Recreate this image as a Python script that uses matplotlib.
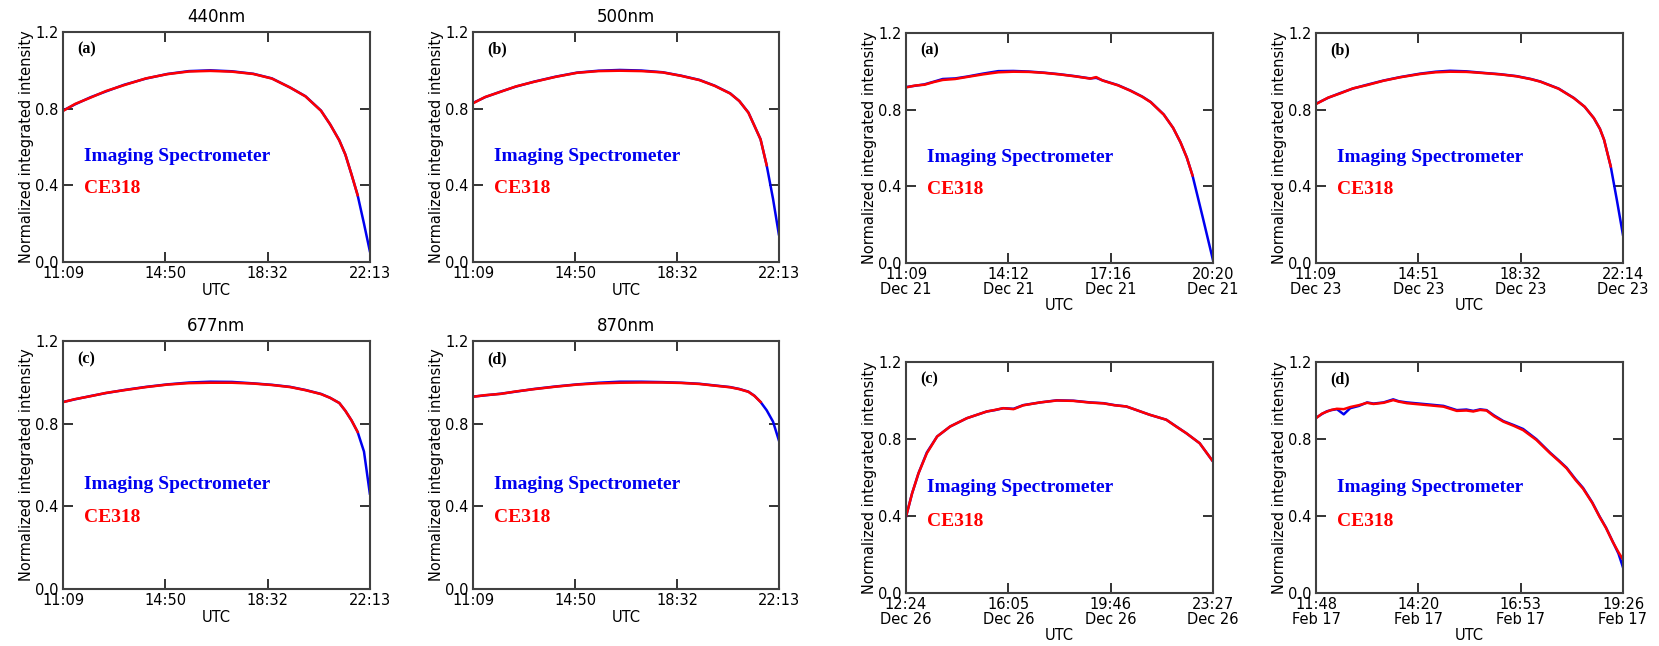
import matplotlib
matplotlib.use("Agg")
import matplotlib.pyplot as plt

# ---------------------------------------------------------------- data
# left block: one day, four wavelengths, same time window (decimal hours UTC)
t_left = [11.15, 11.59, 12.15, 12.70, 13.36, 14.14, 14.91, 15.69, 16.46, 17.24, 18.01,
          18.68, 19.34, 19.89, 20.45, 20.78, 21.11, 21.33, 21.55, 21.77, 22.00, 22.21]
left_window = ("11:09", "22:13")
left_ticks = ["11:09", "14:50", "18:32", "22:13"]

blue_440 = [0.790, 0.823, 0.860, 0.890, 0.925, 0.957, 0.981, 0.996, 1.000, 0.995, 0.982,
            0.958, 0.910, 0.865, 0.790, 0.718, 0.635, 0.560, 0.457, 0.349, 0.200, 0.057]
red_440 = [0.788, 0.825, 0.858, 0.892, 0.923, 0.958, 0.980, 0.994, 0.997, 0.993, 0.981,
           0.957, 0.910, 0.864, 0.789, 0.718, 0.634, 0.560, 0.457, 0.349]

blue_500 = [0.830, 0.860, 0.889, 0.915, 0.941, 0.967, 0.988, 0.998, 1.002, 0.999, 0.990,
            0.972, 0.950, 0.920, 0.880, 0.840, 0.780, 0.710, 0.640, 0.505, 0.330, 0.145]
red_500 = [0.828, 0.861, 0.888, 0.916, 0.940, 0.966, 0.987, 0.996, 0.998, 0.996, 0.989,
           0.971, 0.949, 0.919, 0.879, 0.840, 0.779, 0.710, 0.640, 0.505]

blue_677 = [0.905, 0.918, 0.934, 0.948, 0.963, 0.978, 0.990, 0.999, 1.003, 1.002, 0.995,
            0.988, 0.978, 0.963, 0.944, 0.925, 0.900, 0.862, 0.816, 0.760, 0.665, 0.462]
red_677 = [0.904, 0.919, 0.933, 0.949, 0.962, 0.977, 0.989, 0.996, 0.998, 0.998, 0.994,
           0.987, 0.977, 0.962, 0.943, 0.925, 0.900, 0.862, 0.816, 0.760]

blue_870 = [0.931, 0.937, 0.945, 0.955, 0.968, 0.980, 0.990, 0.998, 1.003, 1.003, 1.001,
            0.998, 0.993, 0.985, 0.977, 0.968, 0.955, 0.935, 0.905, 0.865, 0.810, 0.720]
red_870 = [0.930, 0.938, 0.944, 0.956, 0.967, 0.979, 0.989, 0.995, 0.998, 0.999, 0.999,
           0.997, 0.992, 0.984, 0.976, 0.967, 0.954, 0.934, 0.905]

# right block: four different days
t_dec21 = [11.15, 11.43, 11.70, 11.98, 12.25, 12.62, 12.99, 13.45, 13.91, 14.36, 14.82,
           15.28, 15.74, 16.20, 16.66, 16.84, 17.03, 17.49, 17.86, 18.22, 18.47, 18.86,
           19.14, 19.36, 19.55, 19.72, 20.02, 20.33]
blue_dec21 = [0.918, 0.925, 0.932, 0.946, 0.960, 0.963, 0.973, 0.988, 1.001, 1.002, 0.999,
              0.993, 0.985, 0.975, 0.963, 0.966, 0.953, 0.928, 0.900, 0.868, 0.840, 0.775,
              0.705, 0.630, 0.550, 0.457, 0.243, 0.017]
red_dec21 = [0.916, 0.926, 0.930, 0.944, 0.955, 0.960, 0.971, 0.984, 0.995, 0.998, 0.997,
             0.992, 0.984, 0.974, 0.962, 0.970, 0.952, 0.927, 0.899, 0.867, 0.839, 0.774,
             0.705, 0.630, 0.550, 0.457]
dec21_window = ("11:09", "20:20")
dec21_ticks = ["11:09\nDec 21", "14:12\nDec 21", "17:16\nDec 21", "20:20\nDec 21"]

t_dec23 = [11.15, 11.59, 12.03, 12.48, 12.99, 13.59, 14.19, 14.91, 15.47, 15.99, 16.58,
           17.19, 17.80, 18.39, 18.91, 19.25, 19.91, 20.46, 20.85, 21.18, 21.40, 21.55,
           21.79, 22.01, 22.23]
blue_dec23 = [0.831, 0.862, 0.887, 0.910, 0.930, 0.952, 0.970, 0.988, 0.998, 1.003, 1.000,
              0.992, 0.985, 0.975, 0.960, 0.947, 0.910, 0.861, 0.815, 0.756, 0.700, 0.643,
              0.504, 0.330, 0.148]
red_dec23 = [0.829, 0.863, 0.885, 0.911, 0.928, 0.951, 0.969, 0.986, 0.995, 0.998, 0.997,
             0.991, 0.984, 0.974, 0.959, 0.946, 0.909, 0.860, 0.815, 0.756, 0.700, 0.643,
             0.504]
dec23_window = ("11:09", "22:14")
dec23_ticks = ["11:09\nDec 23", "14:51\nDec 23", "18:32\nDec 23", "22:14\nDec 23"]

t_dec26 = [12.40, 12.62, 12.85, 13.15, 13.52, 13.99, 14.59, 15.31, 15.60, 15.90, 16.27,
           16.62, 17.23, 17.83, 18.42, 19.03, 19.51, 19.91, 20.33, 20.80, 21.17, 21.77,
           22.12, 22.49, 22.97, 23.45]
blue_dec26 = [0.396, 0.518, 0.622, 0.730, 0.813, 0.865, 0.908, 0.943, 0.950, 0.960, 0.957,
              0.976, 0.990, 1.001, 0.999, 0.990, 0.986, 0.976, 0.969, 0.945, 0.926, 0.900,
              0.866, 0.830, 0.778, 0.683]
red_dec26 = [0.396, 0.518, 0.622, 0.726, 0.813, 0.865, 0.908, 0.943, 0.951, 0.960, 0.955,
             0.975, 0.990, 1.000, 0.998, 0.989, 0.985, 0.975, 0.969, 0.945, 0.926, 0.900,
             0.865, 0.830, 0.778, 0.683]
dec26_window = ("12:24", "23:27")
dec26_ticks = ["12:24\nDec 26", "16:05\nDec 26", "19:46\nDec 26", "23:27\nDec 26"]

t_feb17 = [11.80, 11.95, 12.07, 12.18, 12.32, 12.49, 12.65, 12.87, 13.07, 13.23, 13.48,
           13.72, 13.86, 14.06, 14.47, 14.97, 15.30, 15.54, 15.71, 15.88, 16.04, 16.23,
           16.46, 16.72, 16.95, 17.28, 17.62, 17.83, 18.03, 18.25, 18.44, 18.67, 18.85,
           19.01, 19.18, 19.32, 19.43]
blue_feb17 = [0.910, 0.930, 0.944, 0.950, 0.955, 0.928, 0.960, 0.972, 0.990, 0.984, 0.990,
              1.006, 0.996, 0.990, 0.982, 0.972, 0.950, 0.953, 0.946, 0.954, 0.950, 0.922,
              0.893, 0.872, 0.852, 0.799, 0.729, 0.690, 0.651, 0.592, 0.546, 0.470, 0.398,
              0.340, 0.266, 0.205, 0.135]
red_feb17 = [0.908, 0.932, 0.942, 0.951, 0.957, 0.955, 0.966, 0.976, 0.988, 0.982, 0.988,
             1.002, 0.994, 0.986, 0.978, 0.968, 0.946, 0.948, 0.943, 0.951, 0.948, 0.918,
             0.890, 0.868, 0.846, 0.795, 0.726, 0.687, 0.648, 0.588, 0.542, 0.468, 0.396,
             0.338, 0.265, 0.212, 0.175]
feb17_window = ("11:48", "19:26")
feb17_ticks = ["11:48\nFeb 17", "14:20\nFeb 17", "16:53\nFeb 17", "19:26\nFeb 17"]

y_ticks = [0.0, 0.4, 0.8, 1.2]

BLUE = "#0000f0"
RED = "#ff0000"

plt.rcParams["font.family"] = "DejaVu Sans"
plt.rcParams["font.size"] = 10


def hm(s):
    h, m = s.split(":")
    return int(h) + int(m) / 60.0


def panel(box, letter, t, blue, red, window, ticks, title=None, text_y=(0.46, 0.32)):
    x0, x1, top, bot = box
    ax = fig.add_axes([x0 / W, 1 - bot / H, (x1 - x0) / W, (bot - top) / H])
    ax.plot(t, blue, color=BLUE, lw=1.8, solid_joinstyle="round")
    ax.plot(t[:len(red)], red, color=RED, lw=1.8, solid_joinstyle="round")
    lo, hi = hm(window[0]), hm(window[1])
    ax.set_xlim(lo, hi)
    ax.set_xticks([lo + i * (hi - lo) / 3 for i in range(4)])
    ax.set_xticklabels(ticks, linespacing=0.95)
    ax.set_ylim(0, 1.2)
    ax.set_yticks(y_ticks)
    ax.set_yticklabels([f"{v:.1f}" for v in y_ticks])
    ax.tick_params(direction="in", top=True, right=True, length=7, width=1.4,
                   color="#333333", labelsize=10.5, pad=3)
    for sp in ax.spines.values():
        sp.set_color("#404040"); sp.set_linewidth(1.5)
    ax.set_xlabel("UTC", fontsize=10.5, labelpad=1)
    ax.set_ylabel("Normalized integrated intensity", fontsize=10.5, labelpad=1)
    if title:
        ax.set_title(title, fontsize=12, pad=7)
    ax.text(0.045, 0.925, f"({letter})", transform=ax.transAxes, family="Liberation Serif",
            fontweight="bold", fontsize=11.5, va="center")
    ax.text(0.068, text_y[0], "Imaging Spectrometer", transform=ax.transAxes,
            family="Liberation Serif", fontweight="bold", fontsize=14, color=BLUE, va="center")
    ax.text(0.068, text_y[1], "CE318", transform=ax.transAxes,
            family="Liberation Serif", fontweight="bold", fontsize=14, color=RED, va="center")
    return ax


W, H = 1659, 646
fig = plt.figure(figsize=(W / 100, H / 100), dpi=100)

panel((63, 370, 32, 262), "a", t_left, blue_440, red_440, left_window, left_ticks, "440nm")
panel((473, 779, 32, 262), "b", t_left, blue_500, red_500, left_window, left_ticks, "500nm")
panel((63, 370, 341, 589), "c", t_left, blue_677, red_677, left_window, left_ticks, "677nm",
      text_y=(0.42, 0.29))
panel((473, 779, 341, 589), "d", t_left, blue_870, red_870, left_window, left_ticks, "870nm",
      text_y=(0.42, 0.29))

panel((906, 1213, 33, 263), "a", t_dec21, blue_dec21, red_dec21, dec21_window, dec21_ticks)
panel((1316, 1623, 33, 263), "b", t_dec23, blue_dec23, red_dec23, dec23_window, dec23_ticks)
panel((906, 1213, 362, 593), "c", t_dec26, blue_dec26, red_dec26, dec26_window, dec26_ticks,
      text_y=(0.455, 0.31))
panel((1316, 1623, 362, 593), "d", t_feb17, blue_feb17, red_feb17, feb17_window, feb17_ticks,
      text_y=(0.455, 0.31))

fig.savefig("out.png", dpi=100)
